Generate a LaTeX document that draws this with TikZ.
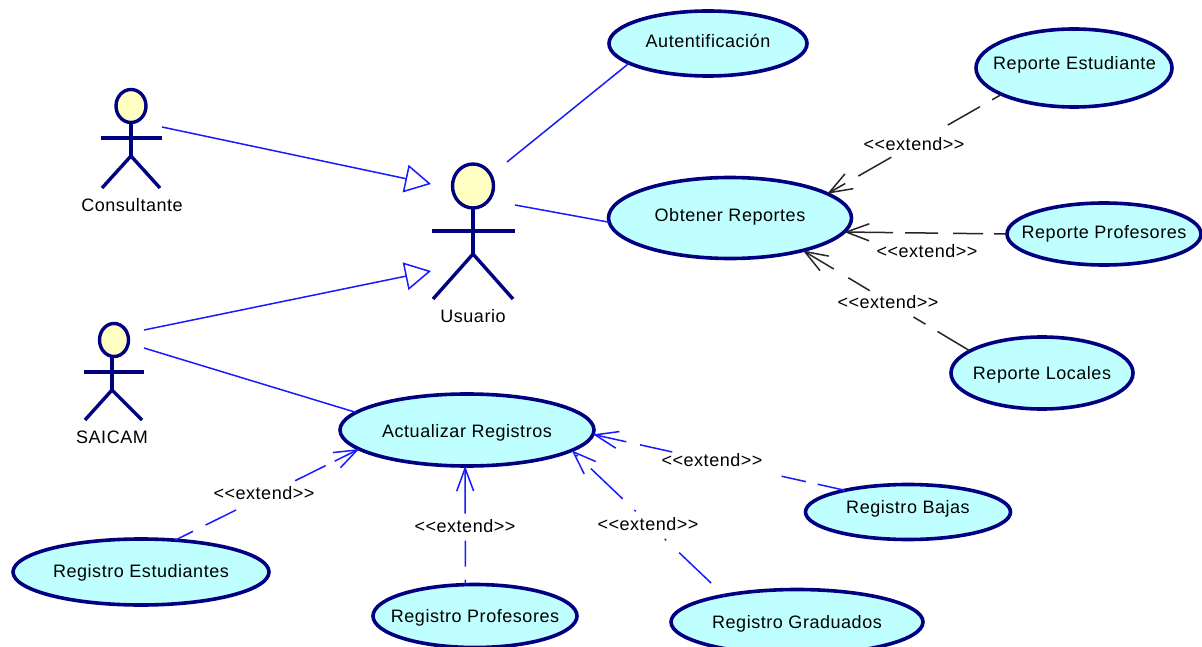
\documentclass[tikz,border=0pt]{standalone}
\usepackage{fontspec}
\setmainfont[LetterSpace=3]{Liberation Sans}
\usetikzlibrary{shapes.geometric,arrows.meta}
\definecolor{navyline}{HTML}{000080}
\definecolor{usefill}{HTML}{BFFFFF}
\definecolor{headfill}{HTML}{FFFFC4}
\definecolor{linkblue}{HTML}{1A1AFF}
\newcommand{\uctext}[2]{\raisebox{#1}[0pt][0pt]{\makebox[0pt]{#2}}}
\newcommand{\exttext}{<{}<extend>{}>}
\tikzset{
  usecase/.style={ellipse,draw=navyline,line width=3.6pt,fill=usefill,inner sep=0pt,outer sep=0pt,font=\fontsize{18}{20}\selectfont},
  head/.style={ellipse,draw=navyline,line width=3.4pt,fill=headfill,inner sep=0pt,outer sep=0pt},
  limb/.style={draw=navyline,line width=3.4pt},
  txt/.style={inner sep=0pt,font=\fontsize{18}{20}\selectfont},
  assoc/.style={draw=linkblue,line width=1.5pt},
  inherit/.style={assoc,-{Triangle[open,length=26pt,width=28pt]}},
  extblue/.style={draw=linkblue,line width=1.5pt,-{Straight Barb[length=23pt,width=17pt]}},
  extblack/.style={draw=black!85,line width=1.5pt,-{Straight Barb[length=23pt,width=17pt]}},
}
\begin{document}
\begin{tikzpicture}[x=1pt,y=-1pt]
\useasboundingbox (0,0) rectangle (1202,647);
\clip (0,0) rectangle (1202,647);
\fill[white] (0,0) rectangle (1202,647);

% use cases
\node[usecase,minimum width=198pt,minimum height=65pt] (aut) at (708,43.5) {\uctext{-4pt}{Autentificación}};
\node[usecase,minimum width=196pt,minimum height=78pt] (rest) at (1074,68) {};
\begin{scope}
  \clip (985,50) rectangle (1154,85);
  \node[txt,anchor=west] (resttxt) at (993,65) {Reporte Estudiantes};
\end{scope}
\node[usecase,minimum width=194pt,minimum height=62pt] (rprof) at (1104,234) {\uctext{-4pt}{Reporte Profesores}};
\node[usecase,minimum width=243pt,minimum height=81pt] (obt) at (730,218) {\uctext{-4pt}{Obtener Reportes}};
\node[usecase,minimum width=182pt,minimum height=72pt] (rloc) at (1042,373) {\uctext{-6pt}{Reporte Locales}};
\node[usecase,minimum width=254pt,minimum height=72pt] (act) at (467,430) {\uctext{-7pt}{Actualizar Registros}};
\node[usecase,minimum width=205pt,minimum height=55pt] (rbaj) at (908,512) {\uctext{-1pt}{Registro Bajas}};
\node[usecase,minimum width=256pt,minimum height=66pt] (rege) at (141,572) {\uctext{-5pt}{Registro Estudiantes}};
\node[usecase,minimum width=204pt,minimum height=63pt] (regp) at (475,616) {\uctext{-6pt}{Registro Profesores}};
\node[usecase,minimum width=252pt,minimum height=65pt] (regg) at (797,622) {\uctext{-6pt}{Registro Graduados}};

% actors
\node[head,minimum width=30pt,minimum height=33pt] (h1) at (131,106) {};
\coordinate (c1) at (131,156);
\draw[limb] (h1.south) -- (c1);
\coordinate (la1) at (101,138); \coordinate (ra1) at (162,138);
\coordinate (ll1) at (102,188); \coordinate (rl1) at (160,188);
\draw[limb] (la1) -- (ra1);
\draw[limb] (ll1) -- (c1) -- (rl1);
\node[txt] (t1) at (132,205) {Consultante};

\node[head,minimum width=41pt,minimum height=44pt] (h2) at (473,186) {};
\coordinate (c2) at (473,254);
\draw[limb] (h2.south) -- (c2);
\coordinate (la2) at (432,231); \coordinate (ra2) at (515,231);
\coordinate (ll2) at (433,299); \coordinate (rl2) at (513,299);
\draw[limb] (la2) -- (ra2);
\draw[limb] (ll2) -- (c2) -- (rl2);
\node[txt] (t2) at (473,316) {Usuario};

\node[head,minimum width=29pt,minimum height=33pt] (h3) at (114,340) {};
\coordinate (c3) at (112,390);
\coordinate (n3) at (112,357);
\draw[limb] (n3) -- (c3);
\coordinate (la3) at (84,372); \coordinate (ra3) at (144,372);
\coordinate (ll3) at (85,420); \coordinate (rl3) at (142,420);
\draw[limb] (la3) -- (ra3);
\draw[limb] (ll3) -- (c3) -- (rl3);
\node[txt] (t3) at (112,437) {SAICAM};

% plain associations and inheritance
\coordinate (a1) at (162,127); \coordinate (u1) at (431,184);
\coordinate (a2) at (144,330); \coordinate (u2) at (431,271);
\coordinate (a3) at (144,348);
\coordinate (u3) at (507,162); \coordinate (u4) at (515,205);
\draw[inherit] (a1) -- (u1);
\draw[inherit] (a2) -- (u2);
\draw[assoc] (a3) -- (act.171);
\draw[assoc] (u3) -- (aut.194);
\draw[assoc] (u4) -- (obt.182);

% extend relations
\draw[extblack,dash pattern=on 11pt off 14pt on 37pt off 65pt on 38pt off 15pt on 60pt] (rest.200) -- (obt.14);
\draw[extblack,dash pattern=on 13pt off 11pt on 30pt off 15pt on 33pt off 12pt on 60pt] (rprof.west) -- (obt.-7);
\draw[extblack,dash pattern=on 38pt off 14pt on 14pt off 51pt on 25pt off 17pt on 60pt] (rloc.163) -- (obt.-24);
\draw[extblue,dash pattern=on 28pt off 12pt on 25pt off 112pt on 33pt off 14pt on 60pt] (rbaj.161) -- (act.-2);
\draw[extblue,dash pattern=on 20pt off 14pt on 34pt off 66pt on 34pt off 10pt on 60pt] (rege.43) -- (act.190);
\draw[extblue,dash pattern=on 5pt off 13pt on 26pt off 27pt on 60pt] (regp.107) -- (act.-93);
\draw[extblue,dash pattern=on 2pt off 16pt on 44pt off 18pt on 2pt off 40pt] (regg.160) -- (act.-11);

\node[txt] (l1) at (914,144) {\exttext};
\node[txt] (l2) at (927,251) {\exttext};
\node[txt] (l3) at (888,302) {\exttext};
\node[txt] (l4) at (712,460) {\exttext};
\node[txt] (l5) at (264,493) {\exttext};
\node[txt] (l6) at (465,526) {\exttext};
\node[txt] (l7) at (648,524) {\exttext};
\end{tikzpicture}
\end{document}
